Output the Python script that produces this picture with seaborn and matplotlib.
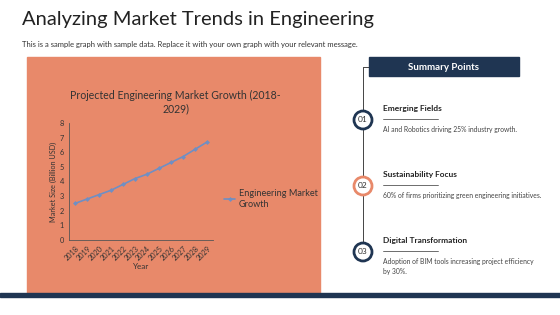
import matplotlib.pyplot as plt
import matplotlib.patches as mpatches
import pandas as pd
import seaborn as sns

sns.set_theme(style="white")
plt.rcParams["font.family"] = ["Lato", "DejaVu Sans"]

years = ["2018", "2019", "2020", "2021", "2022", "2023", "2024", "2025", "2026", "2027", "2028", "2029"]
market_size = [2.5, 2.8, 3.1, 3.4, 3.8, 4.2, 4.5, 4.9, 5.3, 5.7, 6.2, 6.7]
series_name = "Engineering Market\nGrowth"

point_titles = ["Emerging Fields", "Sustainability Focus", "Digital Transformation"]
point_texts = [
    "AI and Robotics driving 25% industry growth.",
    "60% of firms prioritizing green engineering initiatives.",
    "Adoption of BIM tools increasing project efficiency\nby 30%.",
]
point_nums = ["01", "02", "03"]

orange = "#E8896A"
navy = "#1F3552"
line_blue = "#6F8FC4"

df = pd.DataFrame({"Year": years, "Market Size (Billion USD)": market_size})

W, H = 560, 315
fig = plt.figure(figsize=(5.6, 3.15), dpi=100)
fig.patch.set_facecolor("white")

def fx(px):
    return px / W

def fy(py):
    return 1 - py / H

# orange panel
fig.patches.append(mpatches.Rectangle((fx(27), fy(293)), fx(320 - 27), (293 - 57) / H,
                                      transform=fig.transFigure, color=orange, zorder=-1))
# bottom bar
fig.patches.append(mpatches.Rectangle((0, fy(297)), 1, 4 / H,
                                      transform=fig.transFigure, color=navy, zorder=-1))

fig.text(fx(22), fy(20), "Analyzing Market Trends in Engineering", fontsize=14.5,
         color="#222222", va="center")
fig.text(fx(22), fy(44), "This is a sample graph with sample data. Replace it with your own graph with your relevant message.",
         fontsize=5.5, color="#333333", va="center")

ax = fig.add_axes([fx(69), fy(240), fx(213 - 69), (240 - 123) / H])
ax.set_zorder(5)
ax.set_facecolor(orange)
sns.lineplot(data=df, x="Year", y="Market Size (Billion USD)", ax=ax, color=line_blue,
             marker="D", markersize=2.5, markeredgewidth=0, linewidth=1.2,
             label=series_name, sort=False)
ax.set_ylim(0, 8)
ax.set_yticks(range(0, 9))
ax.set_xlim(-0.5, len(years) - 0.5)
ax.tick_params(axis="both", labelsize=5.3, colors="#333333", length=2, width=0.5, pad=1.5)
plt.setp(ax.get_xticklabels(), rotation=45, ha="right", rotation_mode="anchor")
ax.set_xlabel("Year", fontsize=5.8, color="#333333", labelpad=1)
ax.set_ylabel("Market Size (Billion USD)", fontsize=5.2, color="#333333", labelpad=2)
for s in ["top", "right"]:
    ax.spines[s].set_visible(False)
for s in ["left", "bottom"]:
    ax.spines[s].set_color("#555555")
    ax.spines[s].set_linewidth(0.6)
ax.legend(loc="center left", bbox_to_anchor=(1.02, 0.35), frameon=False, fontsize=6.6,
          handlelength=1.2, handletextpad=0.4, labelcolor="#333333")
ax.text(0.74, 1.18, "Projected Engineering Market Growth (2018-\n2029)", transform=ax.transAxes,
        ha="center", va="center", fontsize=7.6, color="#333333")

# right summary panel
fig.add_artist(plt.Line2D([fx(363), fx(363)], [fy(67), fy(252)], transform=fig.transFigure,
                          color="#444444", lw=0.7, zorder=1))
fig.add_artist(plt.Line2D([fx(363), fx(369)], [fy(67), fy(67)], transform=fig.transFigure,
                          color="#444444", lw=0.7, zorder=1))
fig.patches.append(mpatches.Rectangle((fx(369), fy(76)), fx(519 - 369), 19 / H,
                                      transform=fig.transFigure, color=navy, zorder=2))
fig.text(fx(444), fy(67), "Summary Points", fontsize=7, color="white", fontweight="bold",
         ha="center", va="center", zorder=3)

ys = [120, 186, 252]
ring_colors = [navy, orange, navy]
for i in range(3):
    y = ys[i]
    fig.patches.append(mpatches.Ellipse((fx(363), fy(y)), 18 / W, 18 / H, transform=fig.transFigure,
                                        facecolor="white", edgecolor=ring_colors[i], lw=2, zorder=3))
    fig.text(fx(363), fy(y), point_nums[i], fontsize=6, color="#333333", ha="center", va="center", zorder=4)
    fig.text(fx(383), fy(y - 11), point_titles[i], fontsize=6, fontweight="bold", color="#222222",
             va="center")
    fig.add_artist(plt.Line2D([fx(383), fx(438)], [fy(y - 1), fy(y - 1)], transform=fig.transFigure,
                              color="#555555", lw=0.6))
    fig.text(fx(383), fy(y + 6), point_texts[i], fontsize=4.9, color="#444444", va="top",
             linespacing=1.5)

fig.savefig("out.png", dpi=100)
